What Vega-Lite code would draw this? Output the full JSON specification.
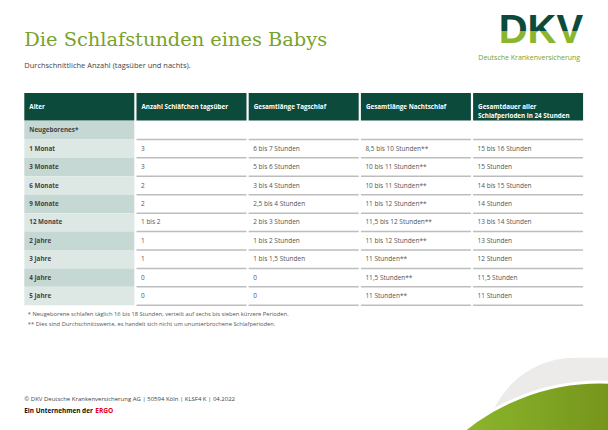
{
  "$schema": "https://vega.github.io/schema/vega-lite/v6.json",
  "padding": {"left": 24.3, "top": 0, "right": 0, "bottom": 0},
  "background": "white",
  "spacing": 0,
  "config": {"view": {"stroke": null}, "font": "Open Sans"},
  "resolve": {"scale": {"color": "independent"}},
  "datasets": {
    "top": [
      {"part": "title", "text": "Die Schlafstunden eines Babys"},
      {"part": "subtitle", "text": "Durchschnittliche Anzahl (tagsüber und nachts)."},
      {"part": "logo", "text": "DKV"},
      {"part": "tagline", "text": "Deutsche Krankenversicherung"}
    ],
    "header": [
      {"col": "alter", "label": "Alter"},
      {"col": "naps", "label": "Anzahl Schläfchen tagsüber"},
      {"col": "tag", "label": "Gesamtlänge Tagschlaf"},
      {"col": "nacht", "label": "Gesamtlänge Nachtschlaf"},
      {"col": "gesamt", "label": "Gesamtdauer aller\nSchlafperioden in 24 Stunden"}
    ],
    "table": [
      {"alter": "Neugeborenes*", "naps": "", "tag": "", "nacht": "", "gesamt": ""},
      {"alter": "1 Monat", "naps": "3", "tag": "6 bis 7 Stunden", "nacht": "8,5 bis 10 Stunden**", "gesamt": "15 bis 16 Stunden"},
      {"alter": "3 Monate", "naps": "3", "tag": "5 bis 6 Stunden", "nacht": "10 bis 11 Stunden**", "gesamt": "15 Stunden"},
      {"alter": "6 Monate", "naps": "2", "tag": "3 bis 4 Stunden", "nacht": "10 bis 11 Stunden**", "gesamt": "14 bis 15 Stunden"},
      {"alter": "9 Monate", "naps": "2", "tag": "2,5 bis 4 Stunden", "nacht": "11 bis 12 Stunden**", "gesamt": "14 Stunden"},
      {"alter": "12 Monate", "naps": "1 bis 2", "tag": "2 bis 3 Stunden", "nacht": "11,5 bis 12 Stunden**", "gesamt": "13 bis 14 Stunden"},
      {"alter": "2 Jahre", "naps": "1", "tag": "1 bis 2 Stunden", "nacht": "11 bis 12 Stunden**", "gesamt": "13 Stunden"},
      {"alter": "3 Jahre", "naps": "1", "tag": "1 bis 1,5 Stunden", "nacht": "11 Stunden**", "gesamt": "12 Stunden"},
      {"alter": "4 Jahre", "naps": "0", "tag": "0", "nacht": "11,5 Stunden**", "gesamt": "11,5 Stunden"},
      {"alter": "5 Jahre", "naps": "0", "tag": "0", "nacht": "11 Stunden**", "gesamt": "11 Stunden"}
    ],
    "notes": [
      {"line": "n1", "text": "*  Neugeborene schlafen täglich 16 bis 18 Stunden, verteilt auf sechs bis sieben kürzere Perioden."},
      {"line": "n2", "text": "** Dies sind Durchschnittswerte, es handelt sich nicht um ununterbrochene Schlafperioden."}
    ],
    "footer": [
      {"line": "copyright", "text": "© DKV Deutsche Krankenversicherung AG | 50594 Köln | KLSF4 K | 04.2022"},
      {"line": "ergo", "text": "Ein Unternehmen der"},
      {"line": "ergo", "text": "ERGO"}
    ],
    "decor": [{"shape": "swoosh"}]
  },
  "vconcat": [
    {
      "width": 558.8,
      "height": 92.3,
      "data": {"name": "top"},
      "resolve": {"scale": {"y": "independent"}},
      "layer": [
        {
          "transform": [{"filter": "datum.part === 'title'"}],
          "mark": {"type": "text", "font": "DejaVu Serif", "fontSize": 19.4, "color": "#78a22b", "align": "left", "baseline": "alphabetic"},
          "encoding": {
            "x": {"datum": "start", "type": "nominal", "axis": null, "scale": {"type": "point", "domain": ["start", "end"], "padding": 0}},
            "y": {"field": "part", "type": "nominal", "axis": null, "scale": {"type": "point", "domain": ["title"], "align": 0.5}},
            "text": {"field": "text"}
          }
        },
        {
          "transform": [{"filter": "datum.part === 'subtitle'"}],
          "mark": {"type": "text", "fontSize": 7.5, "color": "#444444", "align": "left", "baseline": "alphabetic"},
          "encoding": {
            "x": {"datum": "start", "type": "nominal", "axis": null, "scale": {"type": "point", "domain": ["start", "end"], "padding": 0}},
            "y": {"field": "part", "type": "nominal", "axis": null, "scale": {"type": "point", "domain": ["subtitle"], "align": 0.742}},
            "text": {"field": "text"}
          }
        },
        {
          "transform": [{"filter": "datum.part === 'logo'"}],
          "mark": {"type": "text", "font": "Liberation Sans", "fontWeight": "bold", "fontSize": 40, "align": "right", "baseline": "alphabetic",
            "fill": {"gradient": "linear", "x1": 0, "y1": 0, "x2": 0, "y2": 1, "stops": [{"offset": 0, "color": "#0c4a3c"}, {"offset": 0.55, "color": "#0c4a3c"}, {"offset": 0.55, "color": "#8ab52d"}, {"offset": 1, "color": "#8ab52d"}]}},
          "encoding": {
            "x": {"datum": "end", "type": "nominal", "axis": null, "scale": {"type": "point", "domain": ["start", "end"], "padding": 0}},
            "y": {"field": "part", "type": "nominal", "axis": null, "scale": {"type": "point", "domain": ["logo"], "align": 0.4659}},
            "text": {"field": "text"}
          }
        },
        {
          "transform": [{"filter": "datum.part === 'tagline'"}],
          "mark": {"type": "text", "fontSize": 7, "color": "#78a22b", "align": "right", "baseline": "alphabetic", "dx": -3},
          "encoding": {
            "x": {"datum": "end", "type": "nominal", "axis": null, "scale": {"type": "point", "domain": ["start", "end"], "padding": 0}},
            "y": {"field": "part", "type": "nominal", "axis": null, "scale": {"type": "point", "domain": ["tagline"], "align": 0.65}},
            "text": {"field": "text"}
          }
        }
      ]
    },
    {
      "width": 558.8,
      "height": 27.4,
      "data": {"name": "header"},
      "layer": [
        {
          "mark": {"type": "rect", "color": "#0c4a3c"},
          "encoding": {
            "x": {"field": "col", "type": "nominal", "axis": null, "scale": {"domain": ["alter", "naps", "tag", "nacht", "gesamt"], "paddingInner": 0.0196, "paddingOuter": 0}}
          }
        },
        {
          "mark": {"type": "text", "align": "left", "baseline": "middle", "dx": 5, "color": "white", "fontSize": 6.3, "fontWeight": "bold", "lineBreak": "\n", "lineHeight": 9},
          "encoding": {
            "x": {"field": "col", "type": "nominal", "bandPosition": 0, "axis": null, "scale": {"domain": ["alter", "naps", "tag", "nacht", "gesamt"], "paddingInner": 0.0196, "paddingOuter": 0}},
            "text": {"field": "label"}
          }
        }
      ]
    },
    {
      "width": 558.8,
      "height": 184.3,
      "data": {"name": "table"},
      "transform": [{"fold": ["alter", "naps", "tag", "nacht", "gesamt"], "as": ["col", "value"]}],
      "layer": [
        {
          "transform": [{"filter": "datum.col === 'alter'"}],
          "mark": {"type": "rect"},
          "encoding": {
            "x": {"field": "col", "type": "nominal", "axis": null, "scale": {"domain": ["alter", "naps", "tag", "nacht", "gesamt"], "paddingInner": 0.0196, "paddingOuter": 0}},
            "y": {"field": "alter", "type": "nominal", "axis": null, "scale": {"domain": ["Neugeborenes*", "1 Monat", "3 Monate", "6 Monate", "9 Monate", "12 Monate", "2 Jahre", "3 Jahre", "4 Jahre", "5 Jahre"], "paddingInner": 0, "paddingOuter": 0}},
            "color": {"field": "alter", "type": "nominal", "legend": null, "scale": {"domain": ["Neugeborenes*", "1 Monat", "3 Monate", "6 Monate", "9 Monate", "12 Monate", "2 Jahre", "3 Jahre", "4 Jahre", "5 Jahre"], "range": ["#c5d8d3", "#dde8e5", "#c5d8d3", "#dde8e5", "#c5d8d3", "#dde8e5", "#c5d8d3", "#dde8e5", "#c5d8d3", "#dde8e5"]}}
          }
        },
        {
          "transform": [{"filter": "datum.col !== 'alter'"}],
          "mark": {"type": "rule", "color": "#bdbdbd", "strokeWidth": 1.5},
          "encoding": {
            "x": {"field": "col", "type": "nominal", "bandPosition": 0, "axis": null, "scale": {"domain": ["alter", "naps", "tag", "nacht", "gesamt"], "paddingInner": 0.0196, "paddingOuter": 0}},
            "x2": {"field": "col", "bandPosition": 1},
            "y": {"field": "alter", "type": "nominal", "bandPosition": 1, "axis": null, "scale": {"domain": ["Neugeborenes*", "1 Monat", "3 Monate", "6 Monate", "9 Monate", "12 Monate", "2 Jahre", "3 Jahre", "4 Jahre", "5 Jahre"], "paddingInner": 0, "paddingOuter": 0}}
          }
        },
        {
          "transform": [{"filter": "datum.col === 'alter'"}],
          "mark": {"type": "text", "align": "left", "baseline": "middle", "dx": 5, "color": "#444444", "fontSize": 6.3, "fontWeight": "bold"},
          "encoding": {
            "x": {"field": "col", "type": "nominal", "bandPosition": 0, "axis": null, "scale": {"domain": ["alter", "naps", "tag", "nacht", "gesamt"], "paddingInner": 0.0196, "paddingOuter": 0}},
            "y": {"field": "alter", "type": "nominal", "axis": null, "scale": {"domain": ["Neugeborenes*", "1 Monat", "3 Monate", "6 Monate", "9 Monate", "12 Monate", "2 Jahre", "3 Jahre", "4 Jahre", "5 Jahre"], "paddingInner": 0, "paddingOuter": 0}},
            "text": {"field": "value"}
          }
        },
        {
          "transform": [{"filter": "datum.col !== 'alter'"}],
          "mark": {"type": "text", "align": "left", "baseline": "middle", "dx": 4.5, "color": "#555555", "fontSize": 6.5},
          "encoding": {
            "x": {"field": "col", "type": "nominal", "bandPosition": 0, "axis": null, "scale": {"domain": ["alter", "naps", "tag", "nacht", "gesamt"], "paddingInner": 0.0196, "paddingOuter": 0}},
            "y": {"field": "alter", "type": "nominal", "axis": null, "scale": {"domain": ["Neugeborenes*", "1 Monat", "3 Monate", "6 Monate", "9 Monate", "12 Monate", "2 Jahre", "3 Jahre", "4 Jahre", "5 Jahre"], "paddingInner": 0, "paddingOuter": 0}},
            "text": {"field": "value"}
          }
        }
      ]
    },
    {
      "width": 558.8,
      "height": 31.5,
      "data": {"name": "notes"},
      "mark": {"type": "text", "align": "left", "baseline": "middle", "dx": 3.5, "color": "#555555", "fontSize": 5.8},
      "encoding": {
        "x": {"datum": "start", "type": "nominal", "axis": null, "scale": {"type": "point", "domain": ["start", "end"], "padding": 0}},
        "y": {"field": "line", "type": "nominal", "axis": null, "scale": {"type": "point", "domain": ["n1", "n2"], "padding": 1, "align": 0.31}},
        "text": {"field": "text"}
      }
    },
    {
      "width": 558.8,
      "height": 82,
      "resolve": {"scale": {"x": "independent", "y": "independent"}},
      "layer": [
        {
          "data": {"name": "decor"},
          "mark": {"type": "rect", "color": "#ecebea", "cornerRadiusTopLeft": 90},
          "encoding": {
            "x": {"datum": 0.8245, "type": "quantitative", "axis": null, "scale": {"domain": [0, 1], "nice": false, "zero": false}},
            "x2": {"datum": 1.245},
            "y": {"datum": 0.77, "type": "quantitative", "axis": null, "scale": {"domain": [0, 1], "nice": false, "zero": false}},
            "y2": {"datum": -2.713}
          }
        },
        {
          "data": {"name": "decor"},
          "mark": {"type": "circle", "size": 186624, "opacity": 1, "stroke": "white", "strokeWidth": 3,
            "fill": {"gradient": "linear", "x1": 0, "y1": 0, "x2": 1, "y2": 0, "stops": [{"offset": 0.15, "color": "#8fb92e"}, {"offset": 0.55, "color": "#73921a"}]}},
          "encoding": {
            "x": {"datum": 1.03, "type": "quantitative", "axis": null, "scale": {"domain": [0, 1], "nice": false, "zero": false}},
            "y": {"datum": -2.16, "type": "quantitative", "axis": null, "scale": {"domain": [0, 1], "nice": false, "zero": false}}
          }
        },
        {
          "data": {"name": "footer"},
          "transform": [{"filter": "datum.line === 'copyright'"}],
          "mark": {"type": "text", "align": "left", "baseline": "middle", "color": "#444444", "fontSize": 6},
          "encoding": {
            "x": {"datum": "start", "type": "nominal", "axis": null, "scale": {"type": "point", "domain": ["start", "end"], "padding": 0}},
            "y": {"field": "line", "type": "nominal", "axis": null, "scale": {"type": "point", "domain": ["copyright"], "align": 0.732}},
            "text": {"field": "text"}
          }
        },
        {
          "data": {"name": "footer"},
          "transform": [{"filter": "datum.text === 'Ein Unternehmen der'"}],
          "mark": {"type": "text", "align": "left", "baseline": "middle", "color": "#111111", "fontSize": 6.4, "fontWeight": "bold"},
          "encoding": {
            "x": {"datum": "start", "type": "nominal", "axis": null, "scale": {"type": "point", "domain": ["start", "end"], "padding": 0}},
            "y": {"field": "line", "type": "nominal", "axis": null, "scale": {"type": "point", "domain": ["ergo"], "align": 0.884}},
            "text": {"field": "text"}
          }
        },
        {
          "data": {"name": "footer"},
          "transform": [{"filter": "datum.text === 'ERGO'"}],
          "mark": {"type": "text", "align": "left", "baseline": "middle", "color": "#e2001a", "fontSize": 6.6, "fontWeight": "bold", "dx": 71},
          "encoding": {
            "x": {"datum": "start", "type": "nominal", "axis": null, "scale": {"type": "point", "domain": ["start", "end"], "padding": 0}},
            "y": {"field": "line", "type": "nominal", "axis": null, "scale": {"type": "point", "domain": ["ergo"], "align": 0.884}},
            "text": {"field": "text"}
          }
        }
      ]
    }
  ]
}
